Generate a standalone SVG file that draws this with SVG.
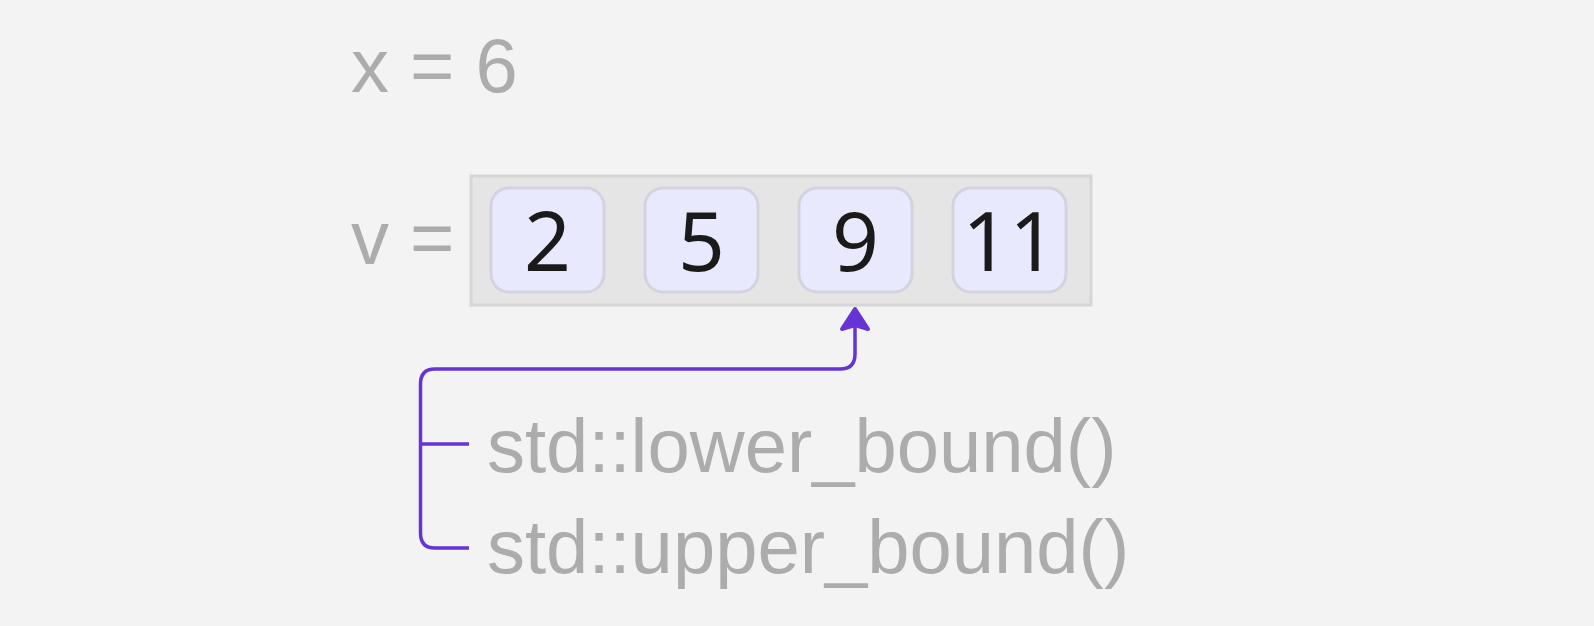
<svg xmlns="http://www.w3.org/2000/svg" width="1594" height="626" viewBox="0 0 1594 626">
<style>
.lbl{font-family:"Liberation Sans",Arial,sans-serif;font-size:76px;fill:#acacac}
.cell{fill:#e9e9fd;stroke:#d3d3e0;stroke-width:3}
.num{font-family:"Noto Sans","Open Sans",sans-serif;font-size:82px;fill:#1a1a1a;text-anchor:middle}
.conn{fill:none;stroke:#6633d6;stroke-width:3.5;stroke-linecap:butt;stroke-linejoin:round}
</style>
<rect width="1594" height="626" fill="#f3f3f3"/>
<g id="x-label"><text class="lbl" x="351" y="92">x = 6</text></g>
<g id="v-label"><text class="lbl" x="351" y="264">v =</text></g>
<g id="vector">
<rect x="471" y="176" width="620" height="129" fill="#e5e5e5" stroke="#d6d6d6" stroke-width="3"/>
</g>
<g id="cell0"><rect class="cell" x="491" y="188" width="113" height="104" rx="18"/><text class="num" x="547.5" y="271">2</text></g>
<g id="cell1"><rect class="cell" x="645" y="188" width="113" height="104" rx="18"/><text class="num" x="701.5" y="271">5</text></g>
<g id="cell2"><rect class="cell" x="799" y="188" width="113" height="104" rx="18"/><text class="num" x="855.5" y="271">9</text></g>
<g id="cell3"><rect class="cell" x="953" y="188" width="113" height="104" rx="18"/><text class="num" x="1009.5" y="271">11</text></g>
<g id="lower"><text class="lbl" x="487" y="472">std::lower_bound()</text></g>
<g id="upper"><text class="lbl" x="487" y="573">std::upper_bound()</text></g>
<g id="connectors">
<path class="conn" d="M469 444 H420.5"/>
<path class="conn" d="M469 548 H435 Q420.5 548 420.5 533 V384 Q420.5 369 435 369 H840 Q855 369 855 354 V326"/>
<path d="M855 309 L868 329 L855 325 L842 329 Z" fill="#6633d6" stroke="#6633d6" stroke-width="4" stroke-linejoin="round"/>
</g>
</svg>
